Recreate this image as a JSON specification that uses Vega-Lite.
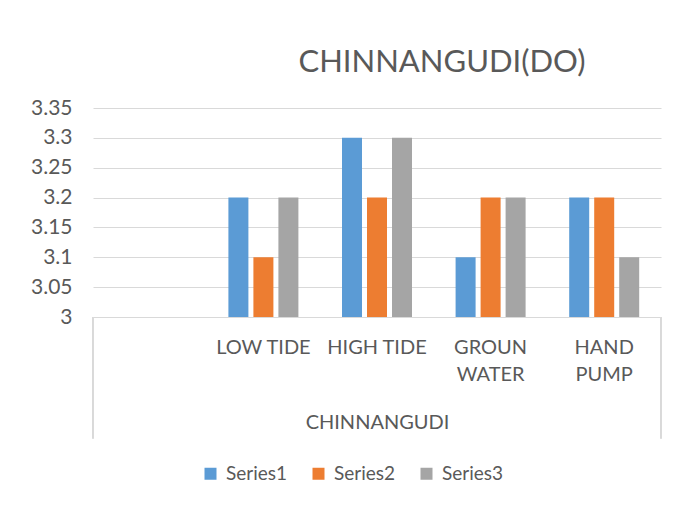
{
  "$schema": "https://vega.github.io/schema/vega-lite/v6.json",
  "autosize": {"type": "none"},
  "width": 568,
  "height": 209,
  "padding": {"left": 93, "top": 108, "right": 36, "bottom": 192},
  "background": "white",
  "title": {
    "text": "CHINNANGUDI(DO)",
    "anchor": "middle",
    "frame": "group",
    "dx": 65,
    "offset": 18,
    "font": "Lato",
    "fontSize": 31,
    "fontWeight": "normal",
    "color": "#595959"
  },
  "data": {
    "values": [
      {"category": "LOW TIDE", "series": "Series1", "value": 3.2},
      {"category": "LOW TIDE", "series": "Series2", "value": 3.1},
      {"category": "LOW TIDE", "series": "Series3", "value": 3.2},
      {"category": "HIGH TIDE", "series": "Series1", "value": 3.3},
      {"category": "HIGH TIDE", "series": "Series2", "value": 3.2},
      {"category": "HIGH TIDE", "series": "Series3", "value": 3.3},
      {"category": "GROUN WATER", "series": "Series1", "value": 3.1},
      {"category": "GROUN WATER", "series": "Series2", "value": 3.2},
      {"category": "GROUN WATER", "series": "Series3", "value": 3.2},
      {"category": "HAND PUMP", "series": "Series1", "value": 3.2},
      {"category": "HAND PUMP", "series": "Series2", "value": 3.2},
      {"category": "HAND PUMP", "series": "Series3", "value": 3.1}
    ]
  },
  "encoding": {
    "x": {
      "field": "category",
      "type": "nominal",
      "sort": null,
      "scale": {"domain": ["", "LOW TIDE", "HIGH TIDE", "GROUN WATER", "HAND PUMP"], "paddingInner": 0, "paddingOuter": 0},
      "axis": {
        "title": "CHINNANGUDI",
        "labelAngle": 0,
        "ticks": false,
        "domainColor": "#d9d9d9",
        "domainWidth": 1,
        "labelFont": "Lato",
        "labelFontSize": 20,
        "labelColor": "#595959",
        "labelPadding": 20,
        "labelLineHeight": 27,
        "labelExpr": "datum.value == 'GROUN WATER' ? ['GROUN','WATER'] : datum.value == 'HAND PUMP' ? ['HAND','PUMP'] : datum.value",
        "titleFont": "Lato",
        "titleFontSize": 20,
        "titleFontWeight": "normal",
        "titleColor": "#595959",
        "titlePadding": 28,
        "grid": false
      }
    }
  },
  "layer": [
    {
      "mark": {"type": "bar"},
      "encoding": {
        "xOffset": {
          "field": "series",
          "type": "nominal",
          "scale": {"domain": ["Series1", "Series2", "Series3"], "paddingInner": 0.2, "paddingOuter": 0.872}
        },
        "y": {
          "field": "value",
          "type": "quantitative",
          "scale": {"domain": [3, 3.35], "nice": false, "zero": false},
          "axis": {
            "title": null,
            "values": [3, 3.05, 3.1, 3.15, 3.2, 3.25, 3.3, 3.35],
            "format": ".2~f",
            "ticks": false,
            "domain": false,
            "labelOverlap": false,
            "gridColor": "#d9d9d9",
            "gridWidth": 1,
            "labelFont": "Lato",
            "labelFontSize": 21,
            "labelColor": "#595959",
            "labelPadding": 21
          }
        },
        "y2": {"datum": 3},
        "color": {
          "field": "series",
          "type": "nominal",
          "scale": {"domain": ["Series1", "Series2", "Series3"], "range": ["#5B9BD5", "#ED7D31", "#A5A5A5"]},
          "legend": {
            "title": null,
            "orient": "none",
            "direction": "horizontal",
            "legendX": 108,
            "legendY": 356,
            "symbolType": "square",
            "symbolSize": 144,
            "symbolStrokeWidth": 0,
            "labelFont": "Lato",
            "labelFontSize": 19,
            "labelColor": "#595959",
            "labelOffset": 6,
            "columnPadding": 21
          }
        }
      }
    },
    {
      "mark": {"type": "rule", "color": "#d9d9d9", "strokeWidth": 1},
      "encoding": {
        "x": {"datum": "", "bandPosition": 0},
        "y": {
          "datum": 3,
          "type": "quantitative",
          "scale": {"domain": [3, 3.35], "nice": false, "zero": false},
          "axis": {
            "title": null,
            "values": [3, 3.05, 3.1, 3.15, 3.2, 3.25, 3.3, 3.35],
            "format": ".2~f",
            "ticks": false,
            "domain": false,
            "labelOverlap": false,
            "gridColor": "#d9d9d9",
            "gridWidth": 1,
            "labelFont": "Lato",
            "labelFontSize": 21,
            "labelColor": "#595959",
            "labelPadding": 21
          }
        },
        "y2": {"datum": 2.797}
      }
    },
    {
      "mark": {"type": "rule", "color": "#d9d9d9", "strokeWidth": 1},
      "encoding": {
        "x": {"datum": "HAND PUMP", "bandPosition": 1},
        "y": {
          "datum": 3,
          "type": "quantitative",
          "scale": {"domain": [3, 3.35], "nice": false, "zero": false},
          "axis": {
            "title": null,
            "values": [3, 3.05, 3.1, 3.15, 3.2, 3.25, 3.3, 3.35],
            "format": ".2~f",
            "ticks": false,
            "domain": false,
            "labelOverlap": false,
            "gridColor": "#d9d9d9",
            "gridWidth": 1,
            "labelFont": "Lato",
            "labelFontSize": 21,
            "labelColor": "#595959",
            "labelPadding": 21
          }
        },
        "y2": {"datum": 2.797}
      }
    }
  ],
  "config": {"view": {"stroke": null}}
}
